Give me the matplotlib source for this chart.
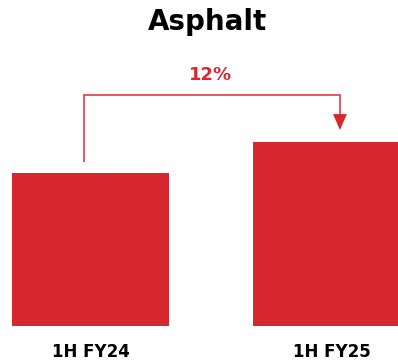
import matplotlib
matplotlib.use("Agg")
import matplotlib.pyplot as plt

# Data
periods = ["1H FY24", "1H FY25"]
volumes = [100, 112]          # indexed, 1H FY24 = 100
growth_label = "12%"

BAR_COLOR = "#d7282f"
LINE_COLOR = "#e4585e"

fig = plt.figure(figsize=(3.98, 3.61), dpi=100)
ax = fig.add_axes([0, 35 / 361, 1, 326 / 361])

x = list(range(len(periods)))
ax.bar(x, volumes, width=0.651, color=BAR_COLOR)

ax.set_xlim(-0.3755, 1.276)
ax.set_ylim(40, 167.6)

ax.set_xticks(x)
ax.set_xticklabels(periods, fontsize=12, fontweight="heavy", color="black")
ax.tick_params(axis="x", length=0, pad=12)
ax.set_yticks([])
for s in ax.spines.values():
    s.set_visible(False)

# Growth bracket from first bar to second
x_left, x_right = -0.027, 1.035
y_top = 130.4
ax.plot([x_left, x_left, x_right, x_right],
        [volumes[0] + 4.2, y_top, y_top, 123.0],
        color=LINE_COLOR, lw=1.4, solid_capstyle="butt", solid_joinstyle="miter")
ax.annotate("", xy=(x_right, volumes[1] + 4.7), xytext=(x_right, 123.0),
            arrowprops=dict(arrowstyle="-|>,head_length=1.15,head_width=0.5",
                            mutation_scale=10, color=BAR_COLOR, lw=0,
                            shrinkA=0, shrinkB=0))
ax.text(0.5, 138.2, growth_label, ha="center", va="center",
        fontsize=13, fontweight="bold", color=BAR_COLOR)

fig.text(207 / 398, 1 - 22 / 361, "Asphalt", ha="center", va="center",
         fontsize=20, fontweight="bold", color="black")

fig.savefig("out.png", dpi=100)
